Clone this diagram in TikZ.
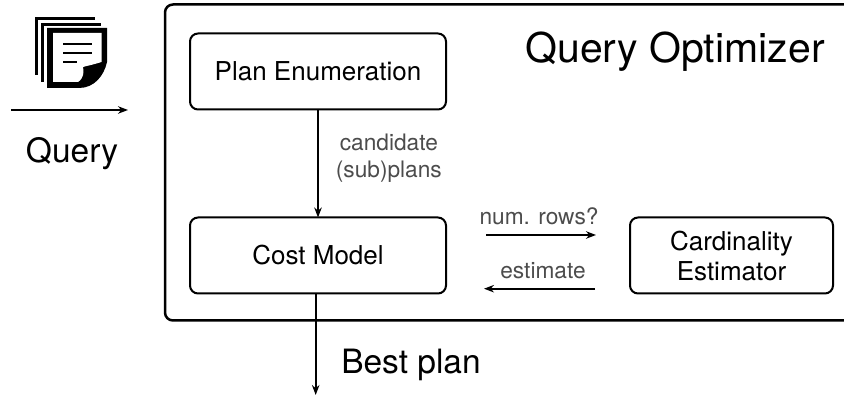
\documentclass[tikz,border=0pt]{standalone}
\usepackage{fontspec}
\setmainfont{TeX Gyre Heros}
\usetikzlibrary{arrows.meta,positioning}

\begin{document}
\begin{tikzpicture}[x=1pt,y=1pt,>={Stealth[length=10pt,width=7.5pt]},node distance=108pt]
  \tikzstyle{module}=[rectangle,rounded corners=8pt,line width=2pt,draw=black,fill=white,outer sep=0pt,
                      minimum width=256pt,minimum height=76pt,align=center,font=\fontsize{26}{30}\selectfont]
  \tikzstyle{flow}=[->,line width=1.7pt]
  \tikzstyle{tag}=[inner sep=0pt,align=center,text=black!70,font=\fontsize{22.7}{26.5}\selectfont]
  \tikzstyle{caption}=[inner sep=0pt,anchor=base,font=\fontsize{33.5}{40}\selectfont]
  \tikzstyle{sheet}=[line width=3pt,line cap=butt]

  \useasboundingbox (0,0) rectangle (844,-395);

  % Optimizer frame, runs off the right edge.
  \node [rectangle,rounded corners=8pt,line width=2.5pt,draw=black,outer sep=0pt,
         minimum width=720pt,minimum height=316pt] (optimizer) at (525,-162.5) {};
  \node [caption,font=\fontsize{41}{48}\selectfont] (title) at (675,-63) {Query Optimizer};

  % Modules.
  \node [module] (plan) at (318,-71.5) {Plan Enumeration};
  \node [module] (cost) [below=of plan] {Cost Model};
  \node [module,minimum width=203pt] (card) [right=184pt of cost] {Cardinality\\Estimator};

  % Query icon.
  \draw [sheet] (36,-75) -- (36,-18.5) -- (95,-18.5);
  \draw [sheet] (42,-82) -- (42,-24.5) -- (101,-24.5);
  \fill (47,-28) -- (107,-28) -- (107,-62) .. controls (104,-76) and (94,-88) .. (79,-88) -- (47,-88) -- cycle;
  \fill [white] (53,-33) -- (101.5,-33) -- (101.5,-62) .. controls (92,-65) and (86,-66) .. (83,-67)
     .. controls (84,-72) and (84,-78) .. (78,-82) -- (53,-82) -- cycle;
  \draw [line width=2.5pt] (63,-44) -- (92,-44) (63,-53) -- (92,-53) (63,-62) -- (77,-62);

  \coordinate (queryin) at (11,-110);
  \coordinate (queryout) at (128,-110);
  \draw [flow] (queryin) -- (queryout);
  \node [caption] (query) at (72,-163) {Query};

  % Connectors.
  \draw [flow] (plan.south) -- node [tag,right=17pt,pos=0.45] (candidates) {candidate\\(sub)plans} (cost.north);

  \coordinate (bestend) at (315.7,-395);
  \draw [flow] (cost.south -| bestend) -- (bestend);
  \node [caption] (best) at (411,-373.5) {Best plan};

  \coordinate (askfrom) at (486,-235);
  \coordinate (askto) at (596,-235);
  \draw [flow] (askfrom) -- (askto);
  \node [tag] (ask) at (539,-216) {num. rows?};

  \coordinate (replyfrom) at (595,-288.7);
  \coordinate (replyto) at (484,-288.7);
  \draw [flow] (replyfrom) -- (replyto);
  \node [tag] (reply) at (543,-270.5) {estimate};
\end{tikzpicture}
\end{document}
